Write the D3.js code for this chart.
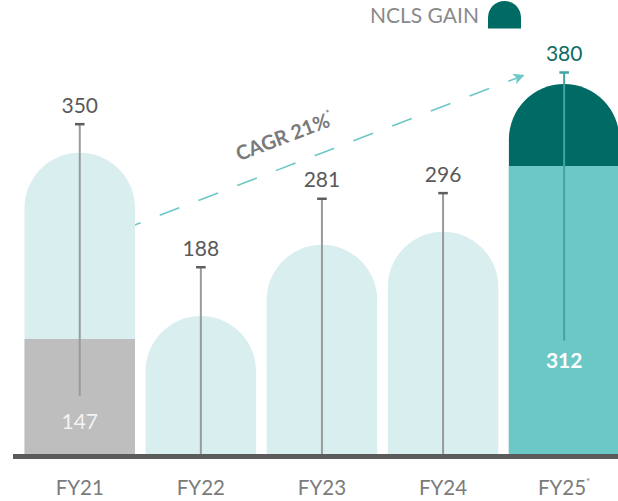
<!DOCTYPE html>
<html>
<head>
<meta charset="utf-8">
<script src="https://cdn.jsdelivr.net/npm/d3@7/dist/d3.min.js"></script>
<style>
  html, body { margin: 0; padding: 0; background: #ffffff; }
  svg { display: block; }
  text { font-family: Lato, "Open Sans", sans-serif; }
</style>
</head>
<body>
<svg id="chart" width="618" height="501"></svg>
<script>
// ---- data ----
const categories   = ["FY21", "FY22", "FY23", "FY24", "FY25"];
const catStar      = [false, false, false, false, true];
const totals       = [350, 188, 281, 296, 380];      // labels above whiskers
const whiskerTop   = [328.6, 186.3, 254.4, 260, 380]; // drawn whisker heights (infographic scale)
const whiskerBase  = [57.7, 0, 0, 0, 112.7];          // where whisker stops
const barTop       = [299.7, 137.3, 208.2, 221.1, 368]; // drawn arch heights
const lowerHeight  = [114.4, 0, 0, 0, 286.5];         // lower segment height
const lowerLabel   = [147, null, null, null, 312];
const cagrLabel    = "CAGR 21%";
const cagrFrom     = 222.6;  // arrow start level
const cagrTo       = 376.6;  // arrow end level
const legendLabel  = "NCLS GAIN";

// ---- colours ----
const C = {
  light: "#d9eeee", gray: "#bebebf", teal: "#6cc8c7", dark: "#006b64",
  axis: "#5b5b5b", whisker: "#9a9a9a", cap: "#5e5e5e", tealWhisker: "#40a5a1",
  value: "#5a5a5a", cat: "#7b7b7b", cagr: "#7a7a7a", legend: "#8a8a8a", arrow: "#6cc8c7"
};

const svg = d3.select("#chart");
const base = 454;

const x = d3.scaleBand().domain(categories)
  .range([24.5, 619.4]).paddingInner(0.0875).paddingOuter(0);
const y = d3.scaleLinear().domain([0, 380]).range([base, 72]);
const bw = x.bandwidth();

function arch(x0, w, top, bottom) {
  const r = w / 2;
  return `M${x0},${bottom}V${top + r}A${r},${r} 0 0 1 ${x0 + w},${top + r}V${bottom}Z`;
}

// ---- CAGR arrow (behind bars) ----
const ax0 = x("FY21") + bw - 14, ax1 = x("FY25") + 14.5;
const ay0 = y(cagrFrom), ay1 = y(cagrTo);
const defs = svg.append("defs");
defs.append("marker").attr("id", "ah")
  .attr("viewBox", "0 0 10 10").attr("refX", 9).attr("refY", 5)
  .attr("markerUnits", "userSpaceOnUse")
  .attr("markerWidth", 11).attr("markerHeight", 11).attr("orient", "auto")
  .append("path").attr("d", "M0,0L10,5L0,10L2.5,5Z").attr("fill", C.arrow);

svg.append("line")
  .attr("x1", ax0).attr("y1", ay0).attr("x2", ax1).attr("y2", ay1)
  .attr("stroke", C.arrow).attr("stroke-width", 1.6)
  .attr("stroke-dasharray", "21,20.5")
  .attr("marker-end", "url(#ah)");

// ---- bars ----
const g = svg.append("g");
categories.forEach((c, i) => {
  const x0 = x(c);
  const isLast = i === categories.length - 1;
  g.append("path")
    .attr("d", arch(x0, bw, y(barTop[i]), base))
    .attr("fill", isLast ? C.dark : C.light);
  if (lowerHeight[i] > 0) {
    g.append("rect")
      .attr("x", x0).attr("width", bw)
      .attr("y", y(lowerHeight[i])).attr("height", base - y(lowerHeight[i]))
      .attr("fill", isLast ? C.teal : C.gray);
  }
});

// ---- whiskers ----
categories.forEach((c, i) => {
  const cx = x(c) + bw / 2;
  const isLast = i === categories.length - 1;
  const lc = isLast ? C.tealWhisker : C.whisker;
  const cc = isLast ? C.tealWhisker : C.cap;
  svg.append("line")
    .attr("x1", cx).attr("x2", cx)
    .attr("y1", y(whiskerTop[i])).attr("y2", y(whiskerBase[i]))
    .attr("stroke", lc).attr("stroke-width", 2);
  svg.append("line")
    .attr("x1", cx - 4.8).attr("x2", cx + 4.8)
    .attr("y1", y(whiskerTop[i]) + 0.5).attr("y2", y(whiskerTop[i]) + 0.5)
    .attr("stroke", cc).attr("stroke-width", 2.5);
  svg.append("text")
    .attr("x", cx).attr("y", y(whiskerTop[i]) - 11)
    .attr("text-anchor", "middle").attr("font-size", 21)
    .attr("fill", isLast ? "#0d6d66" : C.value)
    .text(totals[i]);
  if (lowerLabel[i] !== null) {
    svg.append("text")
      .attr("x", cx).attr("y", y(whiskerBase[i]) + (isLast ? 27 : 33))
      .attr("text-anchor", "middle").attr("font-size", 21)
      .attr("font-weight", isLast ? 700 : 400)
      .attr("fill", isLast ? "#ffffff" : "#f3f3f3")
      .text(lowerLabel[i]);
  }
});

// ---- axis ----
const xAxis = d3.axisBottom(x).tickSize(0).tickPadding(0).tickFormat("");
const axG = svg.append("g").attr("transform", `translate(0,${base})`).call(xAxis);
axG.select(".domain").remove();
svg.append("rect").attr("x", 13).attr("y", base).attr("width", 618 - 13).attr("height", 5)
  .attr("fill", C.axis);

categories.forEach((c, i) => {
  const t = svg.append("text")
    .attr("x", x(c) + bw / 2).attr("y", 495)
    .attr("text-anchor", "middle").attr("font-size", 20.5).attr("fill", C.cat);
  t.append("tspan").text(c);
  if (catStar[i]) t.append("tspan").attr("font-size", 10).attr("dy", -10).text("*");
});

// ---- CAGR label ----
const ang = Math.atan2(ay1 - ay0, ax1 - ax0) * 180 / Math.PI;
const cagr = svg.append("text")
  .attr("transform", `translate(287,143) rotate(${ang})`)
  .attr("text-anchor", "middle").attr("font-size", 20).attr("font-weight", 700)
  .attr("fill", C.cagr);
cagr.append("tspan").text(cagrLabel);
cagr.append("tspan").attr("font-size", 9).attr("dy", -10).text("*");

// ---- legend ----
svg.append("text").attr("x", 370).attr("y", 22.5)
  .attr("font-size", 21).attr("fill", C.legend).text(legendLabel);
svg.append("path").attr("d", arch(488, 33, 1, 28.5)).attr("fill", C.dark);
</script>
</body>
</html>
